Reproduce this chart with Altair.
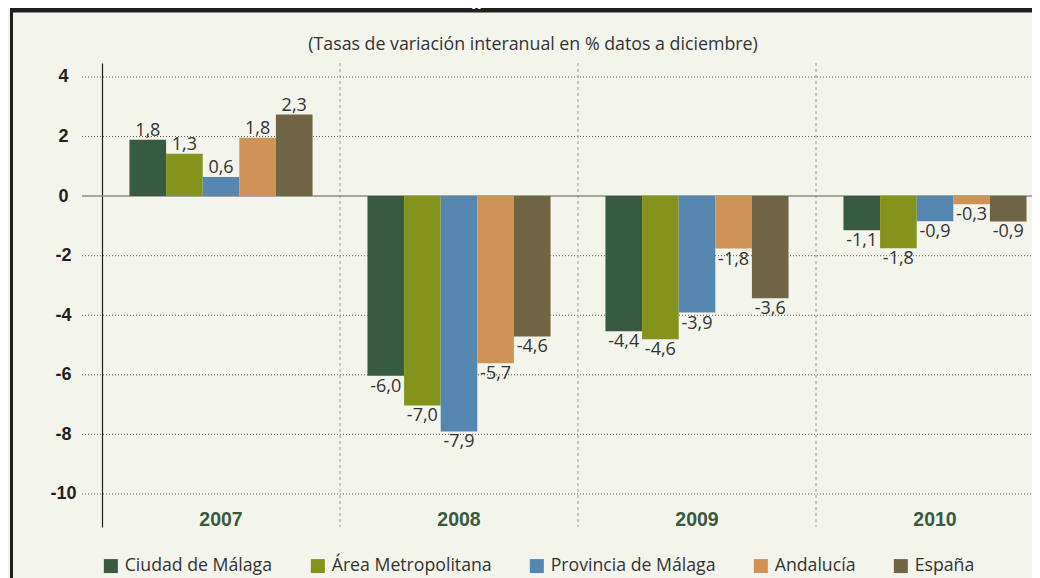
import altair as alt
import pandas as pd

years = ["2007", "2008", "2009", "2010"]
series = ["Ciudad de Málaga", "Área Metropolitana", "Provincia de Málaga", "Andalucía", "España"]
colors = ["#385A41", "#84931C", "#5687B1", "#CF9257", "#706645"]

# bar heights as drawn (per series, per year)
bar_values = {
    "Ciudad de Málaga":    [1.89, -6.03, -4.54, -1.15],
    "Área Metropolitana":  [1.42, -7.03, -4.81, -1.75],
    "Provincia de Málaga": [0.64, -7.90, -3.91, -0.84],
    "Andalucía":           [1.96, -5.61, -1.76, -0.27],
    "España":              [2.74, -4.71, -3.43, -0.85],
}
# printed labels
label_texts = {
    "Ciudad de Málaga":    ["1,8", "-6,0", "-4,4", "-1,1"],
    "Área Metropolitana":  ["1,3", "-7,0", "-4,6", "-1,8"],
    "Provincia de Málaga": ["0,6", "-7,9", "-3,9", "-0,9"],
    "Andalucía":           ["1,8", "-5,7", "-1,8", "-0,3"],
    "España":              ["2,3", "-4,6", "-3,6", "-0,9"],
}
y_ticks = [4, 2, 0, -2, -4, -6, -8, -10]
grid_ticks = [4, 2, -2, -4, -6, -8, -10]
title_text = "(Tasas de variación interanual en % datos a diciembre)"
header_text = "Affiliated workers"

rows = []
for s in series:
    for i, yr in enumerate(years):
        rows.append({"year": yr, "series": s, "value": bar_values[s][i], "label": label_texts[s][i]})
df = pd.DataFrame(rows)

W, H = 930, 464
FONT = "Open Sans"
BOLDFONT = "Liberation Sans"
TXT = "#333333"

xscale = alt.Scale(domain=years, range=[0, 952], paddingInner=0, paddingOuter=0)
yscale = alt.Scale(domain=[-11.11, 4.47], nice=False, zero=False)
off_scale = alt.Scale(domain=series, paddingInner=0, paddingOuter=0.75)
yaxis = alt.Axis(values=y_ticks, title=None, ticks=False, grid=False,
                 domain=True, domainColor="#231F20", domainWidth=1.2,
                 labelAlign="center", labelBaseline="middle", labelPadding=39,
                 labelExpr="'' + datum.value",
                 labelFont=BOLDFONT, labelFontSize=18, labelFontWeight="bold",
                 labelColor="#231F20")

base = alt.Chart(df)

grid = alt.Chart(pd.DataFrame({"v": grid_ticks})).mark_rule(
    color="#555555", strokeWidth=1, strokeDash=[1, 2]
).encode(
    y=alt.Y("v:Q", scale=yscale, axis=yaxis),
    x=alt.value(-20), x2=alt.value(W),
)

vlines = alt.Chart(pd.DataFrame({"year": years[1:]})).mark_rule(
    color="#9a9a9a", strokeWidth=1, strokeDash=[3, 3]
).encode(
    x=alt.X("year:N", scale=xscale, bandPosition=0, axis=None),
    y=alt.value(0), y2=alt.value(H),
)

zero = alt.Chart(pd.DataFrame({"v": [0]})).mark_rule(
    color="#8c8c8c", strokeWidth=1.5
).encode(
    y=alt.Y("v:Q", scale=yscale, axis=yaxis),
    x=alt.value(-20), x2=alt.value(W),
)

bars = base.mark_bar().encode(
    x=alt.X("year:N", scale=xscale, axis=None, sort=years),
    xOffset=alt.XOffset("series:N", scale=off_scale, sort=series),
    y=alt.Y("value:Q", scale=yscale, axis=yaxis),
    color=alt.Color("series:N", sort=series,
                    scale=alt.Scale(domain=series, range=colors),
                    legend=alt.Legend(orient="none", legendX=0, legendY=494,
                                      direction="horizontal", columns=5, title=None,
                                      symbolType="square", symbolSize=196,
                                      symbolStrokeWidth=0, symbolOpacity=1,
                                      labelFont=FONT, labelFontSize=17.7, labelColor=TXT,
                                      labelOffset=5, columnPadding=36, labelLimit=300)),
)

pos_labels = base.transform_filter("datum.value >= 0").mark_text(
    font=FONT, fontSize=18, color=TXT, baseline="alphabetic", dy=-4
).encode(
    x=alt.X("year:N", scale=xscale, axis=None, sort=years),
    xOffset=alt.XOffset("series:N", scale=off_scale, sort=series),
    y=alt.Y("value:Q", scale=yscale, axis=yaxis),
    text="label:N",
)

neg_labels = base.transform_filter("datum.value < 0").mark_text(
    font=FONT, fontSize=18, color=TXT, baseline="top", dy=2
).encode(
    x=alt.X("year:N", scale=xscale, axis=None, sort=years),
    xOffset=alt.XOffset("series:N", scale=off_scale, sort=series),
    y=alt.Y("value:Q", scale=yscale, axis=yaxis),
    text="label:N",
)

year_labels = alt.Chart(pd.DataFrame({"year": years})).mark_text(
    font=BOLDFONT, fontSize=19.5, fontWeight="bold", color="#3A5A40", baseline="middle"
).encode(
    x=alt.X("year:N", scale=xscale, axis=None),
    y=alt.value(457),
    text="year:N",
)

title = alt.Chart(pd.DataFrame({"t": [title_text]})).mark_text(
    font=FONT, fontSize=17.8, color=TXT, baseline="middle"
).encode(
    x=alt.value(431), y=alt.value(-18), text="t:N",
)

# frame
frame_top = alt.Chart(pd.DataFrame({"a": [0]})).mark_rule(
    color="#231F20", strokeWidth=5
).encode(x=alt.value(-92), x2=alt.value(W), y=alt.value(-53))
frame_left = alt.Chart(pd.DataFrame({"a": [0]})).mark_rule(
    color="#231F20", strokeWidth=3
).encode(x=alt.value(-90.5), y=alt.value(-53), y2=alt.value(H + 60))
header_box = alt.Chart(pd.DataFrame({"a": [0]})).mark_rule(
    color="#231F20", strokeWidth=14
).encode(x=alt.value(101), x2=alt.value(761), y=alt.value(-60))
header = alt.Chart(pd.DataFrame({"t": [header_text]})).mark_text(
    font=FONT, fontSize=18, fontStyle="italic", color="white", baseline="alphabetic"
).encode(x=alt.value(431), y=alt.value(-58), text="t:N")

chart = alt.layer(
    grid, vlines, zero, bars, pos_labels, neg_labels, year_labels, title,
    frame_top, frame_left, header_box, header
).properties(
    width=W, height=H,
    autosize=alt.AutoSizeParams(type="none"),
    padding={"left": 94, "top": 55, "right": 0, "bottom": 51},
    background="#F3F4EC",
).configure_view(stroke=None)

chart.save("out.html", embed_options={"renderer": "svg", "actions": False})
